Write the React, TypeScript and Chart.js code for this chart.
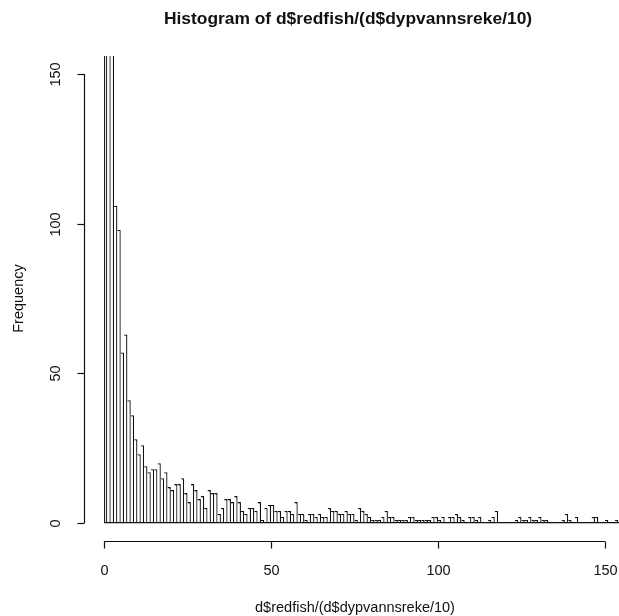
import { useEffect, useRef } from "react";
import { Chart, registerables } from "chart.js";

Chart.register(...registerables);

const title = "Histogram of d$redfish/(d$dypvannsreke/10)";
const xLabel = "d$redfish/(d$dypvannsreke/10)";
const yLabel = "Frequency";

// histogram breaks: unit-width bins starting at 0
const binStart = 0;
const binWidth = 1;

// frequency per bin
const counts = [
  460, 245, 168, 106, 98, 57, 63, 41, 36, 28,
  23, 26, 19, 17, 18, 18, 20, 15, 17, 12,
  11, 13, 13, 15, 10, 7, 13, 11, 8, 9,
  5, 11, 10, 10, 3, 5, 8, 8, 7, 9,
  7, 4, 3, 5, 5, 4, 7, 1, 5, 6,
  6, 4, 4, 2, 4, 4, 3, 7, 3, 3,
  1, 3, 3, 2, 3, 2, 2, 5, 4, 4,
  3, 3, 4, 3, 3, 1, 5, 4, 3, 2,
  1, 1, 1, 2, 4, 2, 2, 1, 1, 1,
  1, 2, 2, 1, 1, 1, 1, 1, 2, 2,
  1, 2, 0, 2, 2, 3, 2, 1, 0, 2,
  2, 1, 2, 0, 0, 1, 2, 4, 0, 0,
  0, 0, 0, 1, 2, 1, 1, 2, 1, 1,
  2, 1, 1, 0, 0, 0, 0, 1, 3, 1,
  0, 2, 0, 0, 0, 0, 2, 2, 0, 0,
  1, 0, 0, 1, 0,
];

const xTicks = [0, 50, 100, 150];
const yTicks = [0, 50, 100, 150];

const FONT = '"Liberation Sans", Arial, Helvetica, sans-serif';
const INK = "#111111";

// base-graphics style axes, offset from the plot region
const baseAxesPlugin = {
  id: "baseAxes",
  afterDraw(chart: any) {
    const { ctx, chartArea } = chart;
    const xs = chart.scales.x;
    const ys = chart.scales.y;
    ctx.save();
    ctx.strokeStyle = INK;
    ctx.fillStyle = INK;
    ctx.lineWidth = 1.2;

    // baseline under the bins (zero-height bins)
    ctx.save();
    ctx.beginPath();
    ctx.rect(chartArea.left, chartArea.top, chartArea.right - chartArea.left, chartArea.bottom - chartArea.top);
    ctx.clip();
    const yZero = ys.getPixelForValue(0);
    ctx.beginPath();
    ctx.moveTo(xs.getPixelForValue(binStart), yZero - 0.5);
    ctx.lineTo(xs.getPixelForValue(binStart + counts.length * binWidth), yZero - 0.5);
    ctx.stroke();
    ctx.restore();

    // y axis
    const ax = Math.round(chartArea.left) + 0.5;
    ctx.beginPath();
    ctx.moveTo(ax, ys.getPixelForValue(yTicks[0]));
    ctx.lineTo(ax, ys.getPixelForValue(yTicks[yTicks.length - 1]));
    ctx.stroke();
    ctx.font = `14.5px ${FONT}`;
    ctx.textAlign = "center";
    ctx.textBaseline = "middle";
    yTicks.forEach((t) => {
      const py = Math.round(ys.getPixelForValue(t)) + 0.5;
      ctx.beginPath();
      ctx.moveTo(ax, py);
      ctx.lineTo(ax - 7, py);
      ctx.stroke();
      ctx.save();
      ctx.translate(ax - 29, py);
      ctx.rotate(-Math.PI / 2);
      ctx.fillText(String(t), 0, 0);
      ctx.restore();
    });

    // x axis
    const ay = Math.round(chartArea.bottom) + 0.5;
    ctx.beginPath();
    ctx.moveTo(xs.getPixelForValue(xTicks[0]), ay);
    ctx.lineTo(xs.getPixelForValue(xTicks[xTicks.length - 1]), ay);
    ctx.stroke();
    xTicks.forEach((t) => {
      const px = Math.round(xs.getPixelForValue(t)) + 0.5;
      ctx.beginPath();
      ctx.moveTo(px, ay);
      ctx.lineTo(px, ay + 7);
      ctx.stroke();
      ctx.fillText(String(t), px, ay + 29);
    });

    // axis titles
    ctx.fillText(xLabel, 355, ay + 66);
    ctx.save();
    ctx.translate(ax - 66, (chartArea.top + chartArea.bottom) / 2);
    ctx.rotate(-Math.PI / 2);
    ctx.fillText(yLabel, 0, 0);
    ctx.restore();

    // main title
    ctx.font = `bold 17.4px ${FONT}`;
    ctx.fillText(title, 348, 19);
    ctx.restore();
  },
};

export default function App() {
  const canvasRef = useRef<HTMLCanvasElement | null>(null);

  useEffect(() => {
    const canvas = canvasRef.current;
    if (!canvas) return;
    const chart = new Chart(canvas, {
      type: "bar",
      data: {
        datasets: [
          {
            data: counts.map((c, i) => ({ x: binStart + (i + 0.5) * binWidth, y: c })),
            backgroundColor: "#ffffff",
            borderColor: INK,
            borderWidth: (ctx: any) =>
              ctx.dataIndex === 0
                ? { top: 1.3, right: 1.3, bottom: 0, left: 1.3 }
                : { top: 1.3, right: 1.3, bottom: 0, left: 0 },
            borderSkipped: false,
            barPercentage: 1,
            categoryPercentage: 1,
            inflateAmount: 0,
            clip: 0,
          } as any,
        ],
      },
      options: {
        animation: false,
        responsive: false,
        devicePixelRatio: 1,
        layout: { padding: { left: 84, top: 56, right: 15, bottom: 75 } },
        scales: {
          x: { type: "linear", min: -6, max: 156, display: false, offset: false },
          y: { type: "linear", min: -6, max: 156, display: false },
        },
        plugins: {
          legend: { display: false },
          tooltip: { enabled: false },
        },
      },
      plugins: [baseAxesPlugin],
    });
    return () => chart.destroy();
  }, []);

  return (
    <div
      style={{
        position: "fixed",
        left: 0,
        top: 0,
        width: 640,
        height: 616,
        background: "#ffffff",
      }}
    >
      <canvas ref={canvasRef} width={640} height={616} style={{ display: "block" }} />
    </div>
  );
}
